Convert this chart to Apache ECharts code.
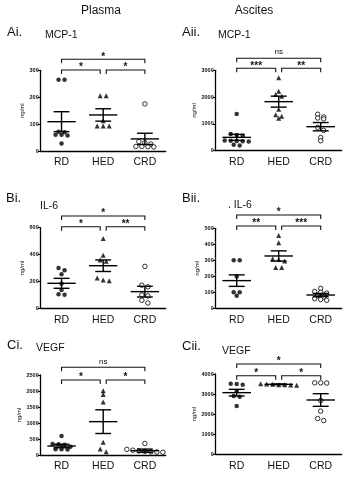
<!DOCTYPE html>
<html>
<head>
<meta charset="utf-8">
<script src="https://cdn.jsdelivr.net/npm/echarts@6/dist/echarts.min.js"></script>
<style>
  html, body { margin: 0; padding: 0; background: #fff; }
  #chart { width: 350px; height: 479px; }
</style>
</head>
<body>
<div id="chart"></div>
<script>
const categories = ['RD', 'HED', 'CRD'];

// Ai. plasma MCP-1
const plasmaMcpRD = [265, 265, 72, 70, 60, 60, 58, 28];
const plasmaMcpHED = [205, 205, 112, 93, 93, 93];
const plasmaMcpCRD = [175, 35, 31, 26, 17, 16, 15, 17];
const plasmaMcpMean = [109, 134, 45];
const plasmaMcpSem = [37, 23, 21];

// Aii. ascites MCP-1
const ascitesMcpRD = [1370, 620, 590, 560, 380, 370, 360, 350, 340, 220, 190];
const ascitesMcpHED = [2720, 2220, 2100, 2030, 1550, 1340, 1290, 1210];
const ascitesMcpCRD = [1360, 1260, 1220, 1190, 870, 760, 490, 370];
const ascitesMcpMean = [498, 1830, 896];
const ascitesMcpSem = [112, 205, 155];

// Bi. plasma IL-6
const plasmaIl6RD = [300, 283, 253, 182, 136, 105, 100];
const plasmaIl6HED = [520, 395, 360, 350, 225, 205, 210];
const plasmaIl6CRD = [312, 172, 160, 100, 92, 60, 40];
const plasmaIl6Mean = [186, 317, 124];
const plasmaIl6Sem = [37, 43, 40];

// Bii. ascites IL-6
const ascitesIl6RD = [300, 300, 198, 100, 100, 78];
const ascitesIl6HED = [455, 410, 310, 305, 295, 255, 255];
const ascitesIl6CRD = [125, 105, 100, 95, 80, 70, 60, 55, 50];
const ascitesIl6Mean = [173, 327, 83];
const ascitesIl6Sem = [36, 32, 10];

// Ci. plasma VEGF
const plasmaVegfRD = [594, 344, 335, 320, 260, 180, 177, 175];
const plasmaVegfHED = [2010, 1890, 1660, 400, 190, 100];
const plasmaVegfCRD = [360, 175, 150, 130, 115, 100, 95, 85];
const plasmaVegfMean = [281, 1042, 135];
const plasmaVegfSem = [55, 370, 50];

// Cii. ascites VEGF
const ascitesVegfRD = [3510, 3500, 3460, 3150, 2900, 2870, 2400];
const ascitesVegfHED = [3520, 3490, 3470, 3450, 3440, 3460, 3500];
const ascitesVegfCRD = [3560, 3550, 3560, 2680, 2150, 1780, 1680];
const ascitesVegfMean = [3071, 3485, 2705];
const ascitesVegfSem = [165, 20, 315];

// y axes
const yMax = [300, 3000, 600, 500, 2500, 4000];
const yStep = [100, 1000, 200, 100, 500, 1000];

// significance brackets: [lower level, upper level] in ng/ml, labels RD-HED, HED-CRD, RD-CRD
const bracketLevels = [[301, 341], [3075, 3448], [607, 687], [514, 583], [2344, 2740], [3915, 4498]];
const sigLabels = [
  ['*', '*', '*'],
  ['***', '**', 'ns'],
  ['*', '**', '*'],
  ['**', '***', '*'],
  ['*', '*', 'ns'],
  ['*', '*', '*']
];

const panelLabels = ['Ai.', 'Aii.', 'Bi.', 'Bii.', 'Ci.', 'Cii.'];
const panelNames = ['MCP-1', 'MCP-1', 'IL-6', '. IL-6', 'VEGF', 'VEGF'];

const panels = [
  [plasmaMcpRD, plasmaMcpHED, plasmaMcpCRD, plasmaMcpMean, plasmaMcpSem],
  [ascitesMcpRD, ascitesMcpHED, ascitesMcpCRD, ascitesMcpMean, ascitesMcpSem],
  [plasmaIl6RD, plasmaIl6HED, plasmaIl6CRD, plasmaIl6Mean, plasmaIl6Sem],
  [ascitesIl6RD, ascitesIl6HED, ascitesIl6CRD, ascitesIl6Mean, ascitesIl6Sem],
  [plasmaVegfRD, plasmaVegfHED, plasmaVegfCRD, plasmaVegfMean, plasmaVegfSem],
  [ascitesVegfRD, ascitesVegfHED, ascitesVegfCRD, ascitesVegfMean, ascitesVegfSem]
];

const grids = [
  { left: 40.7, top: 70.3, width: 125, height: 80.7 },
  { left: 215.7, top: 70.3, width: 126, height: 80.4 },
  { left: 40.7, top: 227.7, width: 125, height: 80.6 },
  { left: 215.7, top: 228.3, width: 126, height: 80 },
  { left: 40.7, top: 375, width: 125, height: 80 },
  { left: 215.7, top: 374, width: 126, height: 80.3 }
];

const FONT = 'Liberation Sans, Arial, sans-serif';
const symbols = ['circle', 'triangle', 'circle'];

// spread close points sideways like a dot plot (rows centred on the category)
function swarm(vals, pxPerUnit) {
  const D = 6, thr = 3;
  const order = vals.map((v, i) => i).sort((a, b) => vals[b] - vals[a]);
  const dx = new Array(vals.length).fill(0);
  let row = [];
  const flush = () => {
    row.forEach((idx, k) => { dx[idx] = (k - (row.length - 1) / 2) * D; });
    row = [];
  };
  order.forEach(i => {
    if (row.length && (vals[row[0]] - vals[i]) * pxPerUnit > thr) flush();
    row.push(i);
  });
  flush();
  return dx;
}

let series = [];
let xAxes = [];
let yAxes = [];

panels.forEach((p, g) => {
  const pxPerUnit = grids[g].height / yMax[g];
  xAxes.push({
    type: 'category', gridIndex: g, data: categories,
    axisLine: { lineStyle: { color: '#000', width: 1.3 } },
    axisTick: { show: false },
    axisLabel: { fontSize: 10.5, color: '#111', margin: 6, fontFamily: FONT }
  });
  yAxes.push({
    type: 'value', gridIndex: g, min: 0, max: yMax[g], interval: yStep[g],
    name: 'ng/ml', nameLocation: 'middle', nameGap: 15,
    nameTextStyle: { fontSize: 6, color: '#111', fontFamily: FONT },
    axisLine: { show: true, lineStyle: { color: '#000', width: 1.3 } },
    axisTick: { show: true, length: 3, lineStyle: { color: '#000', width: 1 } },
    axisLabel: { fontSize: 5.5, fontWeight: 'bold', color: '#111', margin: 2, fontFamily: FONT,
      formatter: v => String(v) },
    splitLine: { show: false }
  });

  for (let c = 0; c < 3; c++) {
    const vals = p[c];
    const dx = swarm(vals, pxPerUnit);
    series.push({
      type: 'scatter', xAxisIndex: g, yAxisIndex: g,
      symbol: symbols[c], symbolSize: c === 1 ? 5 : 4.5,
      itemStyle: c === 2
        ? { color: '#fff', borderColor: '#000', borderWidth: 1 }
        : { color: '#000' },
      data: vals.map((v, i) => ({ value: [c, v], symbolOffset: [dx[i], 0] })),
      z: 2
    });
  }

  // mean +/- SEM
  series.push({
    type: 'custom', xAxisIndex: g, yAxisIndex: g, z: 3,
    encode: { x: 0, y: 1 },
    data: p[3].map((m, i) => [i, m, p[4][i]]),
    renderItem: function (params, api) {
      const idx = api.value(0), m = api.value(1), s = api.value(2);
      const c = api.coord([idx, m]);
      const hi = api.coord([idx, m + s]);
      const lo = api.coord([idx, m - s]);
      const band = Math.abs(api.coord([1, m])[0] - api.coord([0, m])[0]);
      const hw = band * 0.34, cw = band * 0.19;
      const st = { stroke: '#000', lineWidth: 1.4 };
      return {
        type: 'group', children: [
          { type: 'line', shape: { x1: c[0] - hw, y1: c[1], x2: c[0] + hw, y2: c[1] }, style: st },
          { type: 'line', shape: { x1: c[0], y1: hi[1], x2: c[0], y2: lo[1] }, style: st },
          { type: 'line', shape: { x1: c[0] - cw, y1: hi[1], x2: c[0] + cw, y2: hi[1] }, style: st },
          { type: 'line', shape: { x1: c[0] - cw, y1: lo[1], x2: c[0] + cw, y2: lo[1] }, style: st }
        ]
      };
    }
  });

  // brackets
  const lv = bracketLevels[g];
  const labels = sigLabels[g];
  series.push({
    type: 'custom', xAxisIndex: g, yAxisIndex: g, z: 3, clip: false,
    encode: { x: [0, 1], y: 2 },
    data: [[0, 1, lv[0]], [1, 2, lv[0]], [0, 2, lv[1]]],
    renderItem: function (params, api) {
      const a = api.value(0), b = api.value(1), level = api.value(2);
      const p1 = api.coord([a, level]), p2 = api.coord([b, level]);
      let x1 = p1[0], x2 = p2[0];
      if (b - a === 1) {
        if (a === 1) x1 += 3;
        if (b === 1) x2 -= 3;
      }
      const y = p1[1];
      const txt = labels[params.dataIndex];
      const ns = txt === 'ns';
      return {
        type: 'group', children: [
          { type: 'polyline', shape: { points: [[x1, y + 4], [x1, y], [x2, y], [x2, y + 4]] },
            style: { stroke: '#111', lineWidth: 1.1, fill: null } },
          { type: 'text', x: (x1 + x2) / 2, y: ns ? y - 2 : y + 2.5,
            style: { text: txt, fill: '#111', font: (ns ? '8px ' : 'bold 10px ') + FONT,
              align: 'center', verticalAlign: 'bottom', textAlign: 'center', textVerticalAlign: 'bottom' } }
        ]
      };
    }
  });
});

// headings and panel letters
const textItems = [
  ['Plasma', 101, 11, 12, 'center'],
  ['Ascites', 254, 11, 12, 'center'],
  [panelLabels[0], 7, 32, 13, 'left'], [panelNames[0], 45, 35.5, 10.5, 'left'],
  [panelLabels[1], 182, 32, 13, 'left'], [panelNames[1], 218, 35, 10.5, 'left'],
  [panelLabels[2], 6, 198.5, 13, 'left'], [panelNames[2], 40, 206, 10.5, 'left'],
  [panelLabels[3], 182, 198, 13, 'left'], [panelNames[3], 228, 205, 10.5, 'left'],
  [panelLabels[4], 7, 345, 13, 'left'], [panelNames[4], 36, 348, 10.5, 'left'],
  [panelLabels[5], 182, 346, 13, 'left'], [panelNames[5], 222, 351, 10.5, 'left']
];

const graphic = textItems.map(t => ({
  type: 'text', x: t[1], y: t[2],
  style: { text: t[0], font: t[3] + 'px ' + FONT, fill: '#111',
    align: t[4], verticalAlign: 'middle', textAlign: t[4], textVerticalAlign: 'middle' }
}));

let chart = echarts.init(document.getElementById('chart'));
chart.setOption({
  backgroundColor: '#fff',
  animation: false,
  grid: grids,
  xAxis: xAxes,
  yAxis: yAxes,
  series: series,
  graphic: graphic
});
</script>
</body>
</html>
